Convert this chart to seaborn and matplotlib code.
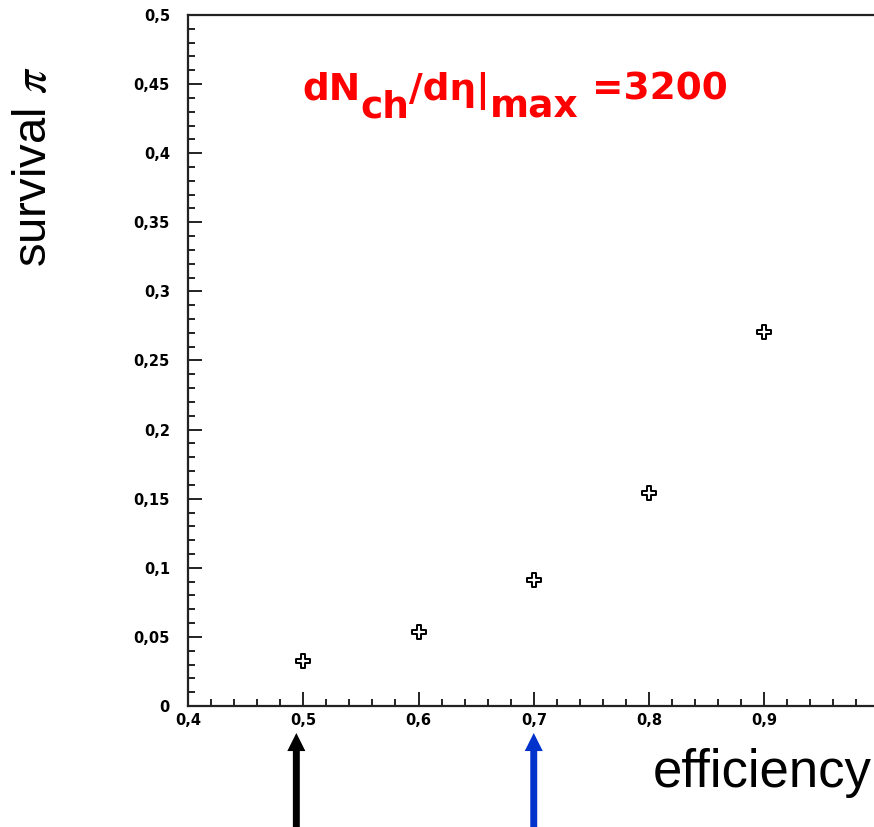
import matplotlib
matplotlib.use("Agg")
import matplotlib.pyplot as plt
from matplotlib.ticker import MultipleLocator, FuncFormatter
import seaborn as sns
import pandas as pd

# ---- data ----
efficiency = [0.5, 0.6, 0.7, 0.8, 0.9]
survival_pi = [0.0326, 0.0535, 0.0912, 0.154, 0.2706]
arrow_black_x = 0.494
arrow_blue_x = 0.7
title_parts = [("dN", 0), ("ch", 18), ("/d\u03b7|", 0), ("max", 18), (" =3200", 0)]

df = pd.DataFrame({"efficiency": efficiency, "survival": survival_pi})

sns.set_style("ticks")
plt.rcParams["font.family"] = ["Liberation Sans", "DejaVu Sans"]

W, H = 874, 827
fig = plt.figure(figsize=(W / 100, H / 100), dpi=100)
ax = fig.add_axes([188 / W, 1 - 706 / H, 1 - 188 / W, (706 - 15) / H])

sns.scatterplot(data=df, x="efficiency", y="survival", ax=ax, marker="P",
                s=95, facecolor="white", edgecolor="black", linewidth=1.4,
                zorder=5, clip_on=False)

ax.set_xlim(0.4, 0.4 + (W - 188) / 1152.5)
ax.set_ylim(0, 0.5)
ax.xaxis.set_major_locator(MultipleLocator(0.1))
ax.xaxis.set_minor_locator(MultipleLocator(0.02))
ax.yaxis.set_major_locator(MultipleLocator(0.05))
ax.yaxis.set_minor_locator(MultipleLocator(0.01))

def fmt(v, pos):
    v = round(v, 4)
    if v == 0:
        return "0"
    return f"{v:g}".replace(".", ",")

ax.xaxis.set_major_formatter(FuncFormatter(fmt))
ax.yaxis.set_major_formatter(FuncFormatter(fmt))
ax.tick_params(which="both", direction="in", width=1.4, color="#222222",
               labelsize=10.5, labelcolor="black")
ax.tick_params(which="major", length=10)
ax.tick_params(which="minor", length=5)
ax.tick_params(axis="y", which="major", pad=13)
ax.tick_params(axis="x", which="major", pad=5)
for lab in ax.get_xticklabels() + ax.get_yticklabels():
    lab.set_fontfamily("DejaVu Sans")
    lab.set_fontweight("bold")
for side in ["left", "bottom", "top"]:
    ax.spines[side].set_linewidth(1.6)
    ax.spines[side].set_color("#222222")
ax.spines["right"].set_visible(False)
ax.set_xlabel("")
ax.set_ylabel("")

# axis titles
fig.text(34 / W, 1 - 167 / H, "survival $\\pi$", rotation=90, ha="center",
         va="center", fontsize=34, color="black", math_fontfamily="stix")
fig.text(653 / W, 1 - 787 / H, "efficiency", ha="left", va="baseline",
         fontsize=38, color="black")

# arrows
for ax_x, col in [(arrow_black_x, "black"), (arrow_blue_x, "#0033cc")]:
    ax.annotate("", xy=(ax_x, 1 - 733 / H), xycoords=("data", "figure fraction"),
                xytext=(ax_x, 0), textcoords=("data", "figure fraction"),
                arrowprops=dict(arrowstyle="simple,head_length=13,head_width=13,tail_width=5",
                                mutation_scale=1, color=col, shrinkA=0, shrinkB=0,
                                linewidth=0),
                annotation_clip=False)

# red title with full-size lowered subscripts
fig.canvas.draw()
r = fig.canvas.get_renderer()
x = 302.0
for txt, dy in title_parts:
    t = fig.text(x / W, 1 - (100 + dy) / H, txt, ha="left", va="baseline",
                 fontsize=27, fontweight="bold", color="#ff0000",
                 fontfamily="DejaVu Sans")
    bb = t.get_window_extent(r)
    x = bb.x1

fig.savefig("out.png", dpi=100)
